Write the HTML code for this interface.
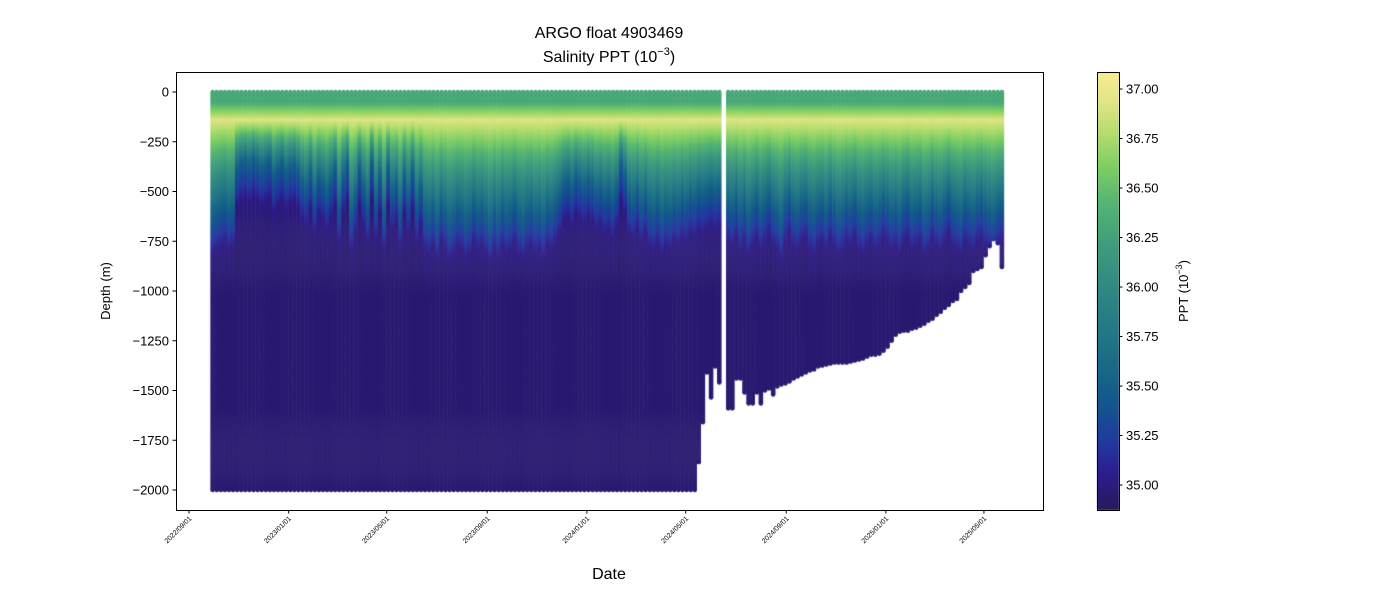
<!DOCTYPE html>
<html><head><meta charset="utf-8"><style>
body{margin:0;background:#fff;}
#wrap{position:relative;width:1400px;height:600px;font-family:"Liberation Sans","DejaVu Sans",sans-serif;}
svg{position:absolute;left:0;top:0;}
canvas{position:absolute;left:0;top:0;}
</style></head><body>
<div id="wrap">
<canvas id="cv" width="1400" height="600"></canvas>
<svg id="sv" width="1400" height="600"></svg>
</div>
<script>
// ---- data ----
const xTickLabels = ["2022/09/01","2023/01/01","2023/05/01","2023/09/01","2024/01/01","2024/05/01","2024/09/01","2025/01/01","2025/05/01"];
const xTickDays = [0,122,242,365,487,608,731,853,973];
const yTicks = [0,-250,-500,-750,-1000,-1250,-1500,-1750,-2000];
const cbTicks = [35.00,35.25,35.50,35.75,36.00,36.25,36.50,36.75,37.00];
const leftStartDay = 29, rightStartDay = 660, cycleDays = 5;
// depth (m) of the 35.5 isohaline per profile
const leftHalocline = [620,600,580,560,600,580,
 380,350,340,360,330,350,380,360,340,420,380,350,400,370,360,390,
 450,480,400,520,430,460,500,440,
 380,560,420,360,600,520,380,480,560,350,540,420,600,380,500,460,580,420,520,400,560,480,
 600,620,580,640,560,600,650,620,580,600,640,620,560,600,580,620,660,600,640,580,620,600,560,620,640,600,580,620,600,640,580,600,560,520,
 460,440,480,420,450,470,440,460,500,480,
 520,500,540,480,360,420,520,540,500,560,520,
 580,600,560,620,580,600,560,580,540,560,520,540,500,520,500,480,500,480];
const leftMaxDepth = [2000,2000,2000,2000,2000,2000,2000,2000,2000,2000,2000,2000,2000,2000,2000,2000,2000,2000,2000,2000,2000,2000,2000,2000,2000,
 2000,2000,2000,2000,2000,2000,2000,2000,2000,2000,2000,2000,2000,2000,2000,2000,2000,2000,2000,2000,2000,2000,2000,2000,2000,
 2000,2000,2000,2000,2000,2000,2000,2000,2000,2000,2000,2000,2000,2000,2000,2000,2000,2000,2000,2000,2000,2000,2000,2000,2000,
 2000,2000,2000,2000,2000,2000,2000,2000,2000,2000,2000,2000,2000,2000,2000,2000,2000,2000,2000,2000,2000,2000,2000,2000,2000,
 2000,2000,2000,2000,2000,2000,2000,2000,2000,2000,2000,2000,2000,2000,2000,2000,2000,2000,2000,1860,1660,1410,1535,1380,1460];
const rightHalocline = [560,580,540,600,560,620,580,540,600,560,520,580,600,640,560,520,580,600,560,540,
 600,620,580,560,600,540,580,620,600,560,580,540,600,620,580,560,600,580,540,560,
 600,580,620,560,540,600,580,560,620,600,540,580,600,560,520,580,600,620,560,580,
 600,560,540,580,600,620,580,560];
const rightMaxDepth = [1590,1590,1440,1440,1510,1565,1565,1510,1565,1500,1490,1520,1480,1470,1465,1455,1440,1430,1420,1410,
 1400,1395,1380,1375,1370,1365,1360,1360,1360,1360,1355,1350,1345,1340,1330,1320,1320,1315,1300,1280,
 1250,1220,1205,1200,1200,1190,1185,1175,1165,1150,1140,1120,1105,1085,1070,1050,1040,1000,980,960,
 900,890,880,820,775,740,760,880];
const surfaceSal = 36.32, peakSal = 36.92, deepSal = 34.95;

// ---- scales ----
const PL=176, PR=1043, PT=72, PB=510;
const xOf = d => 189 + d*0.817;
const yOf = z => 92 - z*0.199;   // z is signed depth (negative down)
const VMIN=34.874, VMAX=37.086;
const cbY = v => 510 - (v-VMIN)/(VMAX-VMIN)*438;
const stopT=[0,0.08,0.15,0.22,0.30,0.40,0.50,0.60,0.70,0.78,0.86,0.93,1];
const stopC=[[41,25,93],[45,28,140],[35,55,160],[20,80,145],[22,100,135],[35,118,135],[48,135,130],[62,155,125],[85,180,115],[125,205,100],[180,220,110],[225,228,135],[250,235,145]];
function cmap(v){let t=(v-VMIN)/(VMAX-VMIN);t=Math.max(0,Math.min(1,t));let i=0;while(i<stopT.length-2&&t>stopT[i+1])i++;
 const r=(t-stopT[i])/(stopT[i+1]-stopT[i]),a=stopC[i],b=stopC[i+1];
 return `rgb(${[0,1,2].map(k=>Math.round(a[k]+(b[k]-a[k])*r)).join(',')})`;}
function sal(z,h){ // z positive depth
 if(z<50) return surfaceSal;
 if(z<140) return surfaceSal+(peakSal-surfaceSal)*(z-50)/90;
 if(z<h) return peakSal+(35.5-peakSal)*(z-140)/Math.max(1,h-140);
 if(z<h+200) return 35.5-0.5*(z-h)/200;
 if(z<h+400) return 35.0-0.05*(z-h-200)/200;
 return deepSal;
}
// ---- draw profiles ----
const ctx=document.getElementById('cv').getContext('2d');
ctx.save();ctx.beginPath();ctx.rect(PL,PT,PR-PL,PB-PT);ctx.clip();
function drawProfile(day,h,maxD){
 const x=xOf(day),w=4.4,step=5;
 for(let z=0;z<maxD;z+=step){
  ctx.fillStyle=cmap(sal(z+step/2,h));
  const y0=yOf(-z),y1=yOf(-Math.min(maxD,z+step));
  ctx.fillRect(x-w/2,y0,w,y1-y0+0.6);
 }
 ctx.fillStyle=cmap(sal(maxD,h));ctx.beginPath();ctx.arc(x,yOf(-maxD),w/2,0,7);ctx.fill();
 ctx.fillStyle=cmap(surfaceSal);ctx.beginPath();ctx.arc(x,yOf(0),w/2,0,7);ctx.fill();
}
leftHalocline.forEach((h,i)=>drawProfile(leftStartDay+i*cycleDays,h,leftMaxDepth[i]));
rightHalocline.forEach((h,i)=>drawProfile(rightStartDay+i*cycleDays,h,rightMaxDepth[i]));
ctx.restore();
// colorbar
for(let y=PT;y<PB;y++){ctx.fillStyle=cmap(VMIN+(PB-y-0.5)/438*(VMAX-VMIN));ctx.fillRect(1097,y,22,1);}

// ---- svg axes ----
const NS='http://www.w3.org/2000/svg',sv=document.getElementById('sv');
function el(tag,attrs,txt){const e=document.createElementNS(NS,tag);for(const k in attrs)e.setAttribute(k,attrs[k]);if(txt!==undefined)e.textContent=txt;sv.appendChild(e);return e;}
let e;
e=el('rect',{x:PL+.5,y:PT+.5,width:PR-PL,height:PB-PT,fill:'none',stroke:'#000','stroke-width':1});


e=el('rect',{x:1097.5,y:PT+.5,width:22,height:PB-PT,fill:'none',stroke:'#000','stroke-width':1});


yTicks.forEach(v=>{const y=yOf(v);
 e=el('line',{x1:PL-3.5,x2:PL,y1:y,y2:y,stroke:'#000'});
 
 
 e=el('text',{x:PL-7,y:y+4.5,'text-anchor':'end','font-size':13},String(v).replace('-','\u2212'));
 
 
});
xTickDays.forEach((d,i)=>{const x=xOf(d);
 e=el('line',{x1:x,x2:x,y1:PB,y2:PB+3.5,stroke:'#000'});
 
 
 e=el('text',{x:x+3,y:PB+9,'text-anchor':'end','font-size':7,transform:`rotate(-45 ${x+3} ${PB+9})`},xTickLabels[i]);
 
 
});
cbTicks.forEach(v=>{const y=cbY(v);
 e=el('line',{x1:1119,x2:1122.5,y1:y,y2:y,stroke:'#000'});
 
 
 e=el('text',{x:1126,y:y+4.5,'font-size':13},v.toFixed(2));
 
 
});
e=el('text',{x:609,y:38,'text-anchor':'middle','font-size':16},'ARGO float 4903469');


e=el('text',{x:609,y:62,'text-anchor':'middle','font-size':16});
e.innerHTML='Salinity PPT (10<tspan dy="-7" font-size="11">\u22123</tspan><tspan dy="7">)</tspan>';


e=el('text',{x:609,y:579,'text-anchor':'middle','font-size':16},'Date');


e=el('text',{x:110,y:291,'text-anchor':'middle','font-size':13,transform:'rotate(-90 110 291)'},'Depth (m)');


e=el('text',{x:1188,y:291,'text-anchor':'middle','font-size':13,transform:'rotate(-90 1188 291)'});
e.innerHTML='PPT (10<tspan dy="-6" font-size="9">\u22123</tspan><tspan dy="6">)</tspan>';


</script>
</body></html>
